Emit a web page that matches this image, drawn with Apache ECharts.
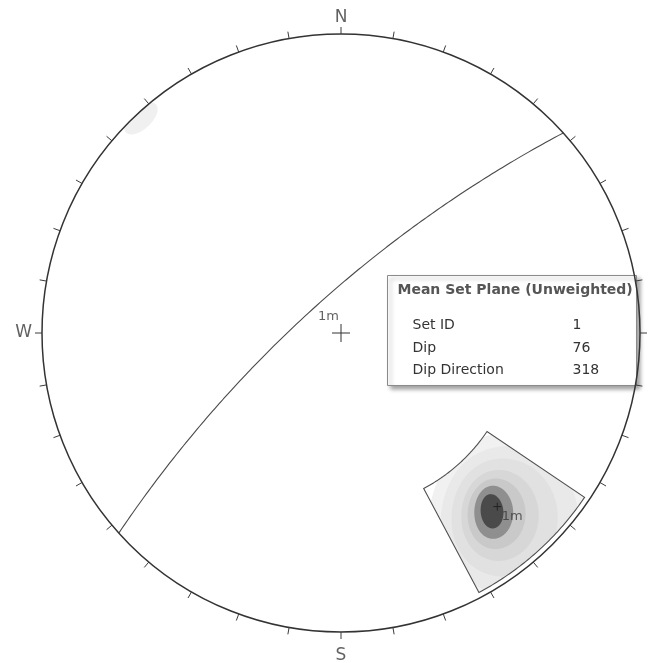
<!DOCTYPE html>
<html>
<head>
<meta charset="utf-8">
<script src="https://cdn.jsdelivr.net/npm/echarts@6.0.0/dist/echarts.min.js"></script>
<style>
  html, body { margin: 0; padding: 0; background: #ffffff; }
  #chart { width: 652px; height: 663px; }
</style>
</head>
<body>
<div id="chart"></div>
<script>
// ---- Mean set plane (set 1) ----
const setId = 1;
const meanDip = 76;
const meanDipDirection = 318;
const setTag = '1m';

// ---- Set window limits (degrees) ----
const windowTrend = [124, 152];
const windowPlunge = [1, 29];

// ---- Pole density contours, outermost first ----
const contourTrend  = [137.3, 137.8, 138.3, 138.8, 139.2, 139.5, 139.7];
const contourPlunge = [11.6, 11.9, 12.3, 12.8, 13.3, 13.8, 14.1];
const contourMajor  = [20.5, 16.8, 13.6, 10.6, 8.3, 6.3, 4.1];
const contourMinor  = [19.5, 15.6, 12.2, 9.0, 6.8, 4.6, 2.7];
const contourRotate = [-48, -48, -48, -48, -48, -50, -55];
const contourFill   = ['#f1f1f1', '#e9e9e9', '#e1e1e1', '#d7d7d7', '#c9c9c9', '#8f8f8f', '#4a4a4a'];

// Wrapped density near the primitive (NW)
const wrapTrend = [317];
const wrapPlunge = [1.0];
const wrapMajor = [4.0];
const wrapMinor = [2.2];
const wrapFill = ['#f0f0f0'];

// ---- Compass ----
const compassLetters = ['N', 'S', 'W'];
const compassAzimuths = [0, 180, 270];
const tickStep = 10;

// ---- Info box rows ----
const infoTitle = 'Mean Set Plane (Unweighted)';
const infoNames = ['Set ID', 'Dip', 'Dip Direction'];
const infoValues = [String(setId), String(meanDip), String(meanDipDirection)];

const D2R = Math.PI / 180;

// Lower-hemisphere equal-angle (stereographic) projection
function project(trend, plunge) {
  const r = Math.tan((90 - plunge) / 2 * D2R);
  return [r * Math.sin(trend * D2R), r * Math.cos(trend * D2R)];
}

function clamp(v, lo, hi) { return Math.max(lo, Math.min(hi, v)); }

// Points along a great circle given dip direction / dip
function greatCircle(dd, dip) {
  const st = (dd - 90) * D2R;
  const s = [Math.cos(st), Math.sin(st), 0];
  const d = [Math.cos(dip * D2R) * Math.cos(dd * D2R),
             Math.cos(dip * D2R) * Math.sin(dd * D2R),
             Math.sin(dip * D2R)];
  const pts = [];
  for (let a = 0; a <= 180; a += 1) {
    const ca = Math.cos(a * D2R), sa = Math.sin(a * D2R);
    const v = [ca * s[0] + sa * d[0], ca * s[1] + sa * d[1], ca * s[2] + sa * d[2]];
    const plunge = Math.asin(clamp(v[2], -1, 1)) / D2R;
    const trend = Math.atan2(v[1], v[0]) / D2R;
    pts.push(project(trend, Math.max(0, plunge)));
  }
  return pts;
}

// Outline of a contour level in trend/plunge space, limited to a box
function contourOutline(ct, cp, major, minor, rot, tLim, pLim) {
  const out = [];
  const r = rot * D2R;
  const n = 160;
  for (let k = 0; k <= n; k++) {
    const phi = k / n * 2 * Math.PI;
    const a = major * Math.cos(phi), b = minor * Math.sin(phi);
    let t = ct + (a * Math.cos(r) - b * Math.sin(r)) / Math.cos(cp * D2R);
    let p = cp + a * Math.sin(r) + b * Math.cos(r);
    t = clamp(t, tLim[0], tLim[1]);
    p = clamp(p, pLim[0], pLim[1]);
    out.push([t, p]);
  }
  return out;
}

const contourItems = contourTrend.map((t, i) => ({
  value: project(t, contourPlunge[i]),
  outline: contourOutline(t, contourPlunge[i], contourMajor[i], contourMinor[i], contourRotate[i], windowTrend, windowPlunge),
  fill: contourFill[i]
}));
wrapTrend.forEach((t, i) => {
  contourItems.unshift({
    value: project(t, wrapPlunge[i]),
    outline: contourOutline(t, wrapPlunge[i], wrapMajor[i], wrapMinor[i], 0, [t - 90, t + 90], [0, 90]),
    fill: wrapFill[i]
  });
});

// Window outline (trend / plunge path)
const windowPath = [];
for (let t = windowTrend[0]; t <= windowTrend[1]; t += 0.5) windowPath.push([t, windowPlunge[1]]);
windowPath.push([windowTrend[1], windowPlunge[0]]);
for (let t = windowTrend[1]; t >= windowTrend[0]; t -= 0.5) windowPath.push([t, windowPlunge[0]]);
windowPath.push([windowTrend[0], windowPlunge[1]]);

const tickAzimuths = [];
for (let a = 0; a < 360; a += tickStep) tickAzimuths.push(a);

const poleTrend = (meanDipDirection + 180) % 360;
const polePlunge = 90 - meanDip;

const chart = echarts.init(document.getElementById('chart'), null, { renderer: 'canvas' });

const labelFont = { fontFamily: 'DejaVu Sans', color: '#3a3a3a' };

chart.setOption({
  backgroundColor: '#ffffff',
  animation: false,
  grid: { left: 42, top: 34, width: 598, height: 598 },
  xAxis: { type: 'value', min: -1, max: 1, show: false },
  yAxis: { type: 'value', min: -1, max: 1, show: false },
  series: [
    {
      // density contours
      type: 'custom',
      z: 1,
      silent: true,
      data: contourItems.map(c => c.value),
      renderItem: function (params, api) {
        const item = contourItems[params.dataIndex];
        const pts = item.outline.map(tp => api.coord(project(tp[0], tp[1])));
        return { type: 'polygon', shape: { points: pts }, style: { fill: item.fill, stroke: null } };
      }
    },
    {
      // set window
      type: 'custom',
      z: 3,
      silent: true,
      data: [project((windowTrend[0] + windowTrend[1]) / 2, (windowPlunge[0] + windowPlunge[1]) / 2)],
      renderItem: function (params, api) {
        const pts = windowPath.map(tp => api.coord(project(tp[0], tp[1])));
        return { type: 'polygon', shape: { points: pts }, style: { fill: null, stroke: '#505050', lineWidth: 1.1 } };
      }
    },
    {
      // mean plane great circle
      type: 'line',
      z: 3,
      silent: true,
      data: greatCircle(meanDipDirection, meanDip),
      showSymbol: false,
      symbol: 'none',
      lineStyle: { color: '#4a4a4a', width: 1.1 }
    },
    {
      // primitive circle
      type: 'custom',
      z: 4,
      silent: true,
      data: [[0, 0]],
      renderItem: function (params, api) {
        const c = api.coord([0, 0]);
        const e = api.coord([1, 0]);
        return { type: 'circle', shape: { cx: c[0], cy: c[1], r: e[0] - c[0] },
                 style: { fill: null, stroke: '#333333', lineWidth: 1.5 } };
      }
    },
    {
      // azimuth ticks
      type: 'custom',
      z: 4,
      silent: true,
      data: tickAzimuths.map(a => [Math.sin(a * D2R), Math.cos(a * D2R)]),
      renderItem: function (params, api) {
        const p = api.coord([api.value(0), api.value(1)]);
        const c = api.coord([0, 0]);
        const dx = p[0] - c[0], dy = p[1] - c[1];
        const len = Math.sqrt(dx * dx + dy * dy);
        const ux = dx / len, uy = dy / len;
        return { type: 'line', shape: { x1: p[0], y1: p[1], x2: p[0] + ux * 7, y2: p[1] + uy * 7 },
                 style: { stroke: '#3c3c3c', lineWidth: 1 } };
      }
    },
    {
      // centre and pole crosses
      type: 'custom',
      z: 5,
      silent: true,
      data: [[0, 0, 9], project(poleTrend, polePlunge).concat([4])],
      renderItem: function (params, api) {
        const p = api.coord([api.value(0), api.value(1)]);
        const h = api.value(2);
        const col = params.dataIndex === 0 ? '#333333' : '#222222';
        return {
          type: 'group',
          children: [
            { type: 'line', shape: { x1: p[0] - h, y1: p[1], x2: p[0] + h, y2: p[1] }, style: { stroke: col, lineWidth: 1 } },
            { type: 'line', shape: { x1: p[0], y1: p[1] - h, x2: p[0], y2: p[1] + h }, style: { stroke: col, lineWidth: 1 } }
          ]
        };
      }
    },
    {
      // compass letters
      type: 'scatter',
      z: 6,
      silent: true,
      symbolSize: 0,
      data: compassAzimuths.map((a, i) => {
        const pos = a === 0 ? 'top' : a === 180 ? 'bottom' : a === 90 ? 'right' : 'left';
        const dist = a === 0 ? 8 : a === 180 ? 15 : 10;
        return {
          value: [Math.sin(a * D2R), Math.cos(a * D2R)],
          label: { show: true, formatter: compassLetters[i], position: pos, distance: dist,
                   fontSize: 17, ...labelFont }
        };
      })
    },
    {
      // set labels
      type: 'scatter',
      z: 6,
      silent: true,
      symbolSize: 0,
      data: [
        { value: project(meanDipDirection, meanDip),
          label: { show: true, formatter: setTag, position: 'inside', offset: [12, 11], fontSize: 13, ...labelFont } },
        { value: project(poleTrend, polePlunge),
          label: { show: true, formatter: setTag, position: 'inside', offset: [15, 10], fontSize: 13, fontFamily: 'DejaVu Sans', color: '#3a3a3a' } }
      ]
    }
  ],
  graphic: [
    {
      type: 'group',
      left: 387,
      top: 275,
      z: 100,
      children: [
        { type: 'rect', shape: { x: 0, y: 0, width: 249, height: 110 },
          style: { fill: '#ffffff', stroke: '#8a8a8a', lineWidth: 1,
                   shadowBlur: 4, shadowOffsetX: 3, shadowOffsetY: 3, shadowColor: 'rgba(0,0,0,0.35)' } },
        { type: 'text', x: 10, y: 15,
          style: { text: infoTitle, font: 'bold 14px "DejaVu Sans"', fill: '#555555', verticalAlign: 'middle' } },
        ...infoNames.map((n, i) => ({
          type: 'text', x: 25, y: 50 + i * 22.5,
          style: { text: n, font: '14px "DejaVu Sans"', fill: '#333333', verticalAlign: 'middle' }
        })),
        ...infoValues.map((v, i) => ({
          type: 'text', x: 185, y: 50 + i * 22.5,
          style: { text: v, font: '14px "DejaVu Sans"', fill: '#333333', verticalAlign: 'middle' }
        }))
      ]
    }
  ]
});
</script>
</body>
</html>
